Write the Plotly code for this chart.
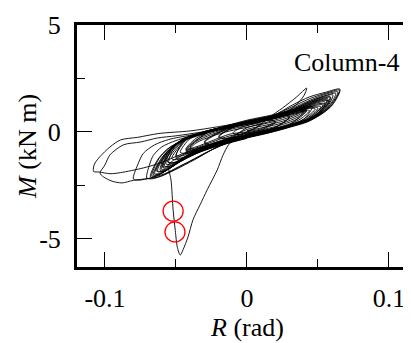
import plotly.graph_objects as go

# ---------------- data (R in rad, M in kN m) ----------------
small_R = [0, 0.005, 0.01, 0.005, 0, -0.005, -0.01, -0.005, 0,
           0.01, 0.02, 0.015, 0.01, 0, -0.01, -0.02, -0.015, -0.01, 0,
           0.01, 0.02, 0.015, 0.01, 0, -0.01, -0.02, -0.015, -0.01, 0,
           0.01, 0.02, 0.03, 0.025, 0.015, 0, -0.015, -0.03, -0.025, -0.015, 0,
           0.01, 0.02, 0.03, 0.025, 0.015, 0, -0.015, -0.03, -0.025, -0.015, 0]
small_M = [0.05, 0.15, 0.35, 0.38, 0.3, 0.18, -0.05, -0.12, 0.0,
           0.15, 0.5, 0.55, 0.5, 0.38, 0.2, -0.2, -0.3, -0.25, -0.05,
           0.1, 0.45, 0.58, 0.52, 0.4, 0.22, -0.25, -0.33, -0.27, -0.1,
           0.05, 0.22, 0.7, 0.8, 0.65, 0.42, 0.15, -0.45, -0.6, -0.45, -0.12,
           0.02, 0.2, 0.72, 0.84, 0.68, 0.45, 0.12, -0.5, -0.62, -0.48, -0.15]

dense_R = [0, 0.012, 0.025, 0.036, 0.042, 0.036, 0.025, 0.012, 0, -0.012, -0.025, -0.036, -0.043, -0.036, -0.025, -0.012,
           0, 0.012, 0.025, 0.036, 0.042, 0.036, 0.025, 0.012, 0, -0.012, -0.025, -0.036, -0.043, -0.036, -0.025, -0.012,
           0, 0.012, 0.025, 0.036, 0.042, 0.036, 0.025, 0.012, 0, -0.012, -0.025, -0.036, -0.043, -0.036, -0.025, -0.012,
           0, 0.012, 0.025, 0.036, 0.042, 0.036, 0.025, 0.012, 0, -0.012, -0.025, -0.036, -0.043, -0.036, -0.025, -0.012, 0]
dense_M = [0.05, 0.22, 0.42, 0.7, 1.0, 0.92, 0.72, 0.5, 0.3, 0.12, -0.12, -0.45, -0.9, -0.82, -0.55, -0.25,
           0.12, 0.3, 0.5, 0.78, 1.06, 0.98, 0.8, 0.58, 0.38, 0.18, -0.05, -0.38, -0.85, -0.75, -0.48, -0.18,
           -0.05, 0.12, 0.35, 0.62, 0.98, 0.88, 0.66, 0.42, 0.22, 0.05, -0.2, -0.52, -1.0, -0.9, -0.62, -0.32,
           0.2, 0.38, 0.58, 0.85, 1.1, 1.02, 0.85, 0.62, 0.42, 0.25, 0.02, -0.3, -0.8, -0.7, -0.42, -0.1, 0.0]

mid_R = [0, 0.015, 0.03, 0.04, 0.035, 0.025, 0.01, -0.01, -0.025, -0.04, -0.035, -0.025, -0.01,
         0, 0.015, 0.03, 0.04, 0.046, 0.04, 0.028, 0.012, -0.01, -0.03, -0.045, -0.05, -0.045, -0.035, -0.02,
         0, 0.015, 0.03, 0.042, 0.05, 0.0535, 0.048, 0.038, 0.025, 0.01, -0.01, -0.03, -0.045, -0.052, -0.055, -0.05, -0.04, -0.025, -0.01, 0]
mid_M = [-0.12, 0.1, 0.35, 0.95, 1.05, 0.88, 0.58, 0.3, 0.08, -0.7, -0.85, -0.6, -0.3,
         -0.15, 0.05, 0.32, 0.6, 1.17, 1.15, 0.9, 0.6, 0.28, 0.02, -0.45, -1.2, -1.2, -0.85, -0.48,
         -0.15, 0.05, 0.3, 0.55, 0.9, 1.26, 1.25, 1.02, 0.72, 0.5, 0.27, 0.0, -0.35, -0.8, -1.45, -1.4, -1.05, -0.65, -0.35, -0.18]

extra_R = [0, 0.015, 0.03, 0.038, 0.044, 0.04, 0.03, 0.015, 0, -0.015, -0.03, -0.04, -0.047, -0.043, -0.033, -0.018,
           0, 0.015, 0.03, 0.04, 0.048, 0.043, 0.032, 0.016, 0, -0.015, -0.03, -0.042, -0.05, -0.046, -0.035, -0.019,
           0, 0.015, 0.03, 0.041, 0.05, 0.045, 0.033, 0.017, 0, -0.015, -0.03, -0.043, -0.053, -0.048, -0.037, -0.02,
           0, 0.015, 0.03, 0.042, 0.052, 0.047, 0.035, 0.018, 0, -0.015, -0.03, -0.045, -0.056, -0.051, -0.039, -0.021,
           0, 0.015, 0.03, 0.044, 0.055, 0.05, 0.038, 0.02, 0, -0.015, -0.03, -0.047, -0.06, -0.055, -0.042, -0.023,
           0, 0.015, 0.03, 0.046, 0.058, 0.052, 0.04, 0.021, 0, -0.015, -0.03, -0.049, -0.064, -0.058, -0.045, -0.025, 0]
extra_M = [-0.1, 0.1, 0.38, 0.62, 1.0, 1.02, 0.9, 0.66, 0.45, 0.22, -0.05, -0.3, -0.95, -1.0, -0.75, -0.45,
           -0.13, 0.07, 0.34, 0.6, 1.08, 1.1, 0.95, 0.7, 0.47, 0.24, -0.02, -0.32, -1.1, -1.12, -0.82, -0.5,
           -0.16, 0.05, 0.31, 0.58, 1.12, 1.15, 0.98, 0.72, 0.48, 0.25, -0.01, -0.36, -1.25, -1.28, -0.9, -0.55,
           -0.2, 0.02, 0.28, 0.55, 1.18, 1.2, 1.02, 0.75, 0.5, 0.26, 0.0, -0.42, -1.4, -1.42, -1.0, -0.6,
           -0.25, -0.02, 0.24, 0.55, 1.3, 1.32, 1.1, 0.8, 0.52, 0.27, 0.0, -0.5, -1.6, -1.62, -1.15, -0.68,
           -0.28, -0.05, 0.22, 0.58, 1.45, 1.45, 1.18, 0.84, 0.55, 0.28, 0.0, -0.55, -1.8, -1.82, -1.28, -0.75, -0.3]

big_R = [0, 0.015, 0.03, 0.043, 0.052, 0.0563, 0.05, 0.04, 0.026, 0.01, -0.01, -0.03, -0.046, -0.054, -0.058, -0.053, -0.043, -0.027, -0.01,
         0, 0.015, 0.03, 0.045, 0.054, 0.0585, 0.052, 0.042, 0.028, 0.01, -0.01, -0.03, -0.047, -0.056, -0.06, -0.055, -0.045, -0.03, -0.012,
         0, 0.015, 0.03, 0.046, 0.056, 0.0605, 0.054, 0.043, 0.029, 0.01, -0.01, -0.03, -0.048, -0.058, -0.063, -0.057, -0.047, -0.031, -0.012,
         0, 0.015, 0.03, 0.047, 0.058, 0.064, 0.057, 0.045, 0.03, 0.01, -0.01, -0.03, -0.05, -0.06, -0.066, -0.06, -0.049, -0.032, -0.012,
         0, 0.015, 0.03, 0.048, 0.06, 0.0655, 0.055, 0.044, 0.032, 0.018, 0, -0.02, -0.04, -0.055, -0.063, -0.068, -0.062, -0.05, -0.033, -0.012, 0]
big_M = [-0.18, 0.03, 0.28, 0.58, 1.0, 1.5, 1.45, 1.18, 0.8, 0.52, 0.27, -0.02, -0.4, -0.9, -1.6, -1.55, -1.15, -0.7, -0.38,
         -0.2, 0.02, 0.27, 0.6, 1.08, 1.64, 1.58, 1.3, 0.88, 0.53, 0.26, -0.04, -0.45, -1.0, -1.75, -1.7, -1.3, -0.8, -0.42,
         -0.22, 0.0, 0.26, 0.62, 1.12, 1.73, 1.66, 1.38, 0.95, 0.55, 0.25, -0.05, -0.5, -1.1, -1.85, -1.8, -1.38, -0.85, -0.45,
         -0.24, -0.02, 0.25, 0.64, 1.18, 1.87, 1.8, 1.5, 1.05, 0.58, 0.25, -0.06, -0.55, -1.2, -2.0, -1.92, -1.45, -0.9, -0.47,
         -0.26, -0.04, 0.24, 0.66, 1.25, 2.0, 1.85, 1.64, 1.26, 0.75, 0.42, 0.1, -0.3, -0.75, -1.3, -2.1, -2.0, -1.5, -0.92, -0.48, -0.28]

rep_R = [0, 0.015, 0.03, 0.042, 0.05, 0.055, 0.049, 0.039, 0.025, 0.01, -0.01, -0.03, -0.045, -0.053, -0.057, -0.052, -0.042, -0.026, -0.01,
         0, 0.015, 0.03, 0.044, 0.053, 0.057, 0.051, 0.041, 0.027, 0.01, -0.01, -0.03, -0.046, -0.055, -0.059, -0.054, -0.044, -0.029, -0.011,
         0, 0.015, 0.03, 0.045, 0.055, 0.059, 0.053, 0.042, 0.028, 0.01, -0.01, -0.03, -0.047, -0.057, -0.061, -0.056, -0.046, -0.03, -0.012,
         0, 0.015, 0.03, 0.046, 0.057, 0.0625, 0.056, 0.044, 0.03, 0.01, -0.01, -0.03, -0.049, -0.059, -0.065, -0.059, -0.048, -0.031, -0.012,
         0, 0.015, 0.03, 0.048, 0.059, 0.065, 0.056, 0.045, 0.031, 0.015, 0, -0.02, -0.04, -0.054, -0.062, -0.067, -0.061, -0.05, -0.033, -0.012, 0]
rep_M = [-0.14, 0.06, 0.32, 0.6, 0.98, 1.4, 1.36, 1.1, 0.75, 0.48, 0.3, 0.02, -0.32, -0.8, -1.5, -1.48, -1.1, -0.68, -0.36,
         -0.17, 0.04, 0.3, 0.62, 1.05, 1.55, 1.5, 1.22, 0.84, 0.5, 0.28, 0.0, -0.38, -0.92, -1.68, -1.64, -1.22, -0.75, -0.4,
         -0.19, 0.02, 0.28, 0.64, 1.1, 1.62, 1.56, 1.3, 0.9, 0.52, 0.27, -0.02, -0.42, -1.0, -1.8, -1.75, -1.32, -0.8, -0.43,
         -0.21, 0.0, 0.26, 0.65, 1.15, 1.8, 1.72, 1.42, 1.0, 0.55, 0.26, -0.04, -0.5, -1.15, -1.95, -1.88, -1.4, -0.86, -0.45,
         -0.24, -0.02, 0.25, 0.66, 1.2, 1.95, 1.82, 1.58, 1.15, 0.68, 0.42, 0.12, -0.25, -0.7, -1.25, -2.05, -1.96, -1.48, -0.9, -0.46, -0.26]

loopA_R = [0.04, 0.02, 0, -0.02, -0.04, -0.062, -0.077, -0.089, -0.0965, -0.1035, -0.107, -0.108, -0.108,
           -0.104, -0.0965, -0.089, -0.073, -0.061, -0.052, -0.04, -0.02, 0, 0.02]
loopA_M = [1.1, 0.72, 0.48, 0.25, 0.05, -0.07, -0.25, -0.37, -0.7, -1.15, -1.45, -1.63, -1.85,
           -1.87, -1.95, -1.9, -1.68, -1.45, -1.2, -0.88, -0.48, -0.15, 0.2]

loopB_R = [0.03, 0.01, -0.01, -0.03, -0.05, -0.063, -0.075, -0.087, -0.0965, -0.1, -0.1035,
           -0.101, -0.095, -0.088, -0.08, -0.07, -0.061, -0.051, -0.037, -0.0225, -0.01, 0.01, 0.03]
loopB_M = [0.9, 0.55, 0.3, 0.02, -0.18, -0.28, -0.47, -0.6, -1.07, -1.54, -1.92,
           -2.1, -2.3, -2.38, -2.26, -2.18, -2.08, -1.78, -1.3, -0.75, -0.4, -0.05, 0.3]

loopC_R = [0.04, 0.02, 0, -0.02, -0.04, -0.055, -0.065, -0.073, -0.077, -0.080,
           -0.076, -0.068, -0.058, -0.048, -0.035, -0.02, 0, 0.02, 0.04]
loopC_M = [1.0, 0.65, 0.4, 0.12, -0.15, -0.35, -0.6, -1.0, -1.54, -2.2,
           -2.25, -2.15, -1.95, -1.62, -1.2, -0.68, -0.22, 0.15, 0.5]

loopD_R = [0.03, 0.01, -0.01, -0.03, -0.05, -0.06, -0.066, -0.0685, -0.0705,
           -0.066, -0.056, -0.044, -0.03, -0.015, 0, 0.02]
loopD_M = [0.85, 0.5, 0.25, -0.03, -0.4, -0.7, -1.1, -1.5, -2.15,
           -2.18, -1.92, -1.5, -1.0, -0.55, -0.22, 0.15]

spike_R = [0.01, 0.0, -0.006, -0.01, -0.013, -0.017, -0.021, -0.028, -0.033, -0.038, -0.0415, -0.045, -0.047,
           -0.049, -0.0505, -0.052, -0.0535, -0.055, -0.0556, -0.05, -0.04, -0.025, -0.01, 0.005,
           0.016, 0.025, 0.035, 0.042, 0.041, 0.039, 0.032, 0.023, 0.01, 0, -0.02]
spike_M = [0.0, -0.2, -0.32, -0.42, -0.6, -1.1, -1.78, -2.7, -3.4, -4.1, -4.9, -5.5, -5.75,
           -5.4, -4.6, -3.65, -2.25, -1.78, -1.55, -1.25, -0.9, -0.55, -0.25, 0.15,
           0.7, 1.12, 1.64, 2.05, 1.82, 1.59, 1.12, 0.79, 0.5, 0.35, 0.1]

circle_R = [-0.052, -0.0507]
circle_M = [-3.7, -4.67]

x_ticks = [-0.1, 0, 0.1]
x_ticktext = ["-0.1", "0", "0.1"]
y_ticks = [-5, 0, 5]
y_ticktext = ["-5", "0", "5"]

# ---------------- figure ----------------
FONT = "Liberation Serif, Times New Roman, Times, serif"
FS = 26
fig = go.Figure()
segments = [(small_R, small_M), (dense_R, dense_M), (mid_R, mid_M), (extra_R, extra_M),
            (big_R, big_M), (rep_R, rep_M),
            (loopA_R, loopA_M), (loopB_R, loopB_M), (loopC_R, loopC_M), (loopD_R, loopD_M),
            (spike_R, spike_M)]
for rr, mm in segments:
    fig.add_trace(go.Scatter(x=rr, y=mm, mode="lines",
                             line=dict(color="black", width=0.9, shape="spline", smoothing=0.8),
                             showlegend=False, hoverinfo="skip"))
fig.add_trace(go.Scatter(x=circle_R, y=circle_M, mode="markers",
                         marker=dict(symbol="circle-open", size=20, color="red", line=dict(width=1.3, color="red")),
                         showlegend=False, hoverinfo="skip"))
fig.add_trace(go.Scatter(x=[], y=[], yaxis="y2", showlegend=False))

# page body has an 8 px margin: figure is offset by (8, 8) in the window
fig.update_layout(
    width=403, height=335,
    margin=dict(l=69, r=0, t=17, b=76),
    paper_bgcolor="white", plot_bgcolor="white",
    font=dict(family=FONT, size=FS, color="black"),
    xaxis=dict(range=[-0.1197, 0.1155], tickmode="array", tickvals=x_ticks, ticktext=x_ticktext,
               ticks="inside", ticklen=15, tickwidth=1, tickcolor="black",
               minor=dict(tickvals=[-0.05, 0.05], ticks="inside", ticklen=8, tickcolor="black", tickwidth=1),
               showline=True, linewidth=3, linecolor="black", mirror="ticks",
               showgrid=False, zeroline=False, ticklabelstandoff=6,
               tickfont=dict(family=FONT, size=FS)),
    yaxis=dict(range=[-6.31, 5.0], tickmode="array", tickvals=y_ticks, ticktext=y_ticktext,
               ticks="inside", ticklen=15, tickwidth=1, tickcolor="black",
               minor=dict(tickvals=[-2.5, 2.5], ticks="inside", ticklen=8, tickcolor="black", tickwidth=1),
               showline=True, linewidth=3, linecolor="black", mirror=False,
               showgrid=False, zeroline=False, ticklabelstandoff=8,
               tickfont=dict(family=FONT, size=FS)),
    yaxis2=dict(range=[-6.31, 5.0], overlaying="y", side="right", tickmode="array", tickvals=y_ticks,
                ticks="inside", ticklen=8, tickwidth=1, tickcolor="black",
                minor=dict(tickvals=[-2.5, 2.5], ticks="inside", ticklen=2, tickcolor="black", tickwidth=1),
                showticklabels=False, showline=False, showgrid=False, zeroline=False),
    annotations=[
        dict(text="Column-4", xref="paper", yref="paper", x=0.97, y=0.843,
             xanchor="right", yanchor="middle", showarrow=False, font=dict(family=FONT, size=FS)),
        dict(text="<i>R</i> (rad)", xref="paper", yref="paper", x=0.509, y=-0.248,
             xanchor="center", yanchor="middle", showarrow=False, font=dict(family=FONT, size=FS)),
        dict(text="<i>M</i> (kN m)", xref="paper", yref="paper", x=-0.150, y=0.5, textangle=-90,
             xanchor="center", yanchor="middle", showarrow=False, font=dict(family=FONT, size=FS)),
    ],
)
fig.write_html("out.html")
